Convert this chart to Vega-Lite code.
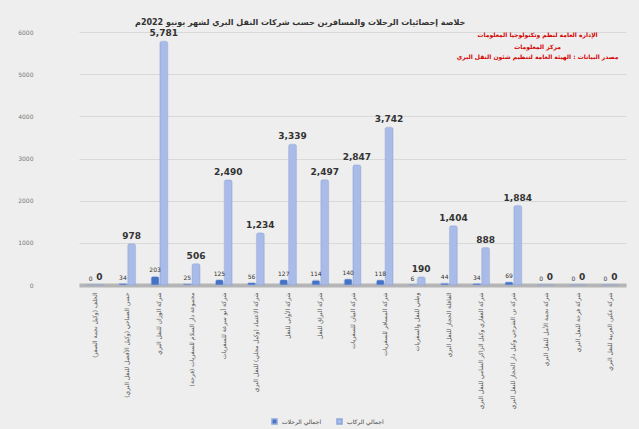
{
  "$schema": "https://vega.github.io/schema/vega-lite/v6.json",
  "autosize": "none",
  "width": 547,
  "height": 253,
  "padding": {"left": 79, "top": 32, "right": 13, "bottom": 144},
  "background": "#eeeeee",
  "title": {
    "text": "خلاصة إحصائيات الرحلات والمسافرين حسب شركات النقل البري  لشهر  يونيو 2022م",
    "fontSize": 8,
    "font": "DejaVu Sans",
    "fontWeight": "bold",
    "color": "#333333",
    "anchor": "start",
    "frame": "group",
    "dx": 56,
    "offset": 2
  },
  "datasets": {
    "main": [
      {"company": "الخلف (وكيل نجمة الصقر)", "series": "اجمالي الرحلات", "value": 0},
      {"company": "الخلف (وكيل نجمة الصقر)", "series": "اجمالي الركاب", "value": 0},
      {"company": "حسن الصباحي (وكيل الأفضل للنقل البري)", "series": "اجمالي الرحلات", "value": 34},
      {"company": "حسن الصباحي (وكيل الأفضل للنقل البري)", "series": "اجمالي الركاب", "value": 978},
      {"company": "شركة الوزان للنقل البري", "series": "اجمالي الرحلات", "value": 203},
      {"company": "شركة الوزان للنقل البري", "series": "اجمالي الركاب", "value": 5781},
      {"company": "مجموعة دار السلام للسفريات (فرحة)", "series": "اجمالي الرحلات", "value": 25},
      {"company": "مجموعة دار السلام للسفريات (فرحة)", "series": "اجمالي الركاب", "value": 506},
      {"company": "شركة أبو سرعة للسفريات", "series": "اجمالي الرحلات", "value": 125},
      {"company": "شركة أبو سرعة للسفريات", "series": "اجمالي الركاب", "value": 2490},
      {"company": "شركة الاعتماد (وكيل مجلي) للنقل البري", "series": "اجمالي الرحلات", "value": 56},
      {"company": "شركة الاعتماد (وكيل مجلي) للنقل البري", "series": "اجمالي الركاب", "value": 1234},
      {"company": "شركة الأولى للنقل", "series": "اجمالي الرحلات", "value": 127},
      {"company": "شركة الأولى للنقل", "series": "اجمالي الركاب", "value": 3339},
      {"company": "شركة البراق للنقل", "series": "اجمالي الرحلات", "value": 114},
      {"company": "شركة البراق للنقل", "series": "اجمالي الركاب", "value": 2497},
      {"company": "شركة البيان للسفريات", "series": "اجمالي الرحلات", "value": 140},
      {"company": "شركة البيان للسفريات", "series": "اجمالي الركاب", "value": 2847},
      {"company": "شركة المسافر للسفريات", "series": "اجمالي الرحلات", "value": 118},
      {"company": "شركة المسافر للسفريات", "series": "اجمالي الركاب", "value": 3742},
      {"company": "وطني للنقل والسفريات", "series": "اجمالي الرحلات", "value": 6},
      {"company": "وطني للنقل والسفريات", "series": "اجمالي الركاب", "value": 190},
      {"company": "القافلة الحجاز للنقل البري", "series": "اجمالي الرحلات", "value": 44},
      {"company": "القافلة الحجاز للنقل البري", "series": "اجمالي الركاب", "value": 1404},
      {"company": "شركة العفاري وكيل الزاكر الشامي للنقل البري", "series": "اجمالي الرحلات", "value": 34},
      {"company": "شركة العفاري وكيل الزاكر الشامي للنقل البري", "series": "اجمالي الركاب", "value": 888},
      {"company": "شركة بن الشرجي وكيل دار الحجاز للنقل البري", "series": "اجمالي الرحلات", "value": 69},
      {"company": "شركة بن الشرجي وكيل دار الحجاز للنقل البري", "series": "اجمالي الركاب", "value": 1884},
      {"company": "شركة نجمة الأمل للنقل البري", "series": "اجمالي الرحلات", "value": 0},
      {"company": "شركة نجمة الأمل للنقل البري", "series": "اجمالي الركاب", "value": 0},
      {"company": "شركة فرحة للنقل البري", "series": "اجمالي الرحلات", "value": 0},
      {"company": "شركة فرحة للنقل البري", "series": "اجمالي الركاب", "value": 0},
      {"company": "شركة عكين العربية للنقل البري", "series": "اجمالي الرحلات", "value": 0},
      {"company": "شركة عكين العربية للنقل البري", "series": "اجمالي الركاب", "value": 0}
    ],
    "notes": [
      {"company": "شركة نجمة الأمل للنقل البري", "value": 5920, "note": "الإدارة العامة لنظم وتكنولوجيا المعلومات"},
      {"company": "شركة نجمة الأمل للنقل البري", "value": 5645, "note": "مركز المعلومات"},
      {"company": "شركة نجمة الأمل للنقل البري", "value": 5405, "note": "مصدر البيانات : الهيئة العامة لتنظيم شئون النقل البري"}
    ]
  },
  "data": {"name": "main"},
  "encoding": {
    "x": {
      "field": "company",
      "type": "nominal",
      "sort": null,
      "scale": {"paddingInner": 0.4, "paddingOuter": 0.2},
      "axis": {
        "title": null,
        "labelAngle": 270,
        "labelFont": "DejaVu Sans",
        "labelFontSize": 6,
        "labelColor": "#555555",
        "labelLimit": 200,
        "labelPadding": 7,
        "ticks": false,
        "domainColor": "#b5b5b5",
        "domainWidth": 4
      }
    },
    "y": {
      "field": "value",
      "type": "quantitative",
      "scale": {"domain": [0, 6000]},
      "axis": {
        "title": null,
        "values": [0, 1000, 2000, 3000, 4000, 5000, 6000],
        "format": "d",
        "labelFont": "DejaVu Sans",
        "labelFontSize": 6,
        "labelColor": "#777777",
        "labelPadding": 46,
        "ticks": false,
        "domain": false,
        "gridColor": "#d9d9d9",
        "gridWidth": 1
      }
    },
    "xOffset": {
      "field": "series",
      "type": "nominal",
      "sort": ["اجمالي الرحلات", "اجمالي الركاب"],
      "scale": {"paddingInner": 0.1, "paddingOuter": 0.15}
    }
  },
  "layer": [
    {
      "mark": {"type": "bar", "cornerRadiusTopLeft": 2, "cornerRadiusTopRight": 2, "stroke": "#8fa6dc", "strokeWidth": 0.5},
      "encoding": {
        "color": {
          "field": "series",
          "type": "nominal",
          "sort": ["اجمالي الرحلات", "اجمالي الركاب"],
          "scale": {"domain": ["اجمالي الرحلات", "اجمالي الركاب"], "range": ["#4472c4", "#a9bbe6"]},
          "legend": {
            "title": null,
            "orient": "none",
            "legendX": 192,
            "legendY": 386,
            "direction": "horizontal",
            "symbolType": "square",
            "symbolSize": 25,
            "labelFont": "DejaVu Sans",
            "labelFontSize": 6,
            "labelColor": "#444444",
            "columnPadding": 12
          }
        }
      }
    },
    {
      "transform": [{"filter": "datum.series === 'اجمالي الركاب'"}],
      "mark": {"type": "text", "baseline": "bottom", "dy": -3, "font": "DejaVu Sans", "fontSize": 9, "fontWeight": "bold", "color": "#333333"},
      "encoding": {"text": {"field": "value", "type": "quantitative", "format": ",d"}}
    },
    {
      "transform": [{"filter": "datum.series === 'اجمالي الرحلات'"}],
      "mark": {"type": "text", "baseline": "bottom", "dy": -3, "font": "DejaVu Sans", "fontSize": 6, "color": "#333333"},
      "encoding": {"text": {"field": "value", "type": "quantitative", "format": "d"}}
    },
    {
      "data": {"name": "notes"},
      "mark": {"type": "text", "font": "DejaVu Sans", "fontSize": 6, "fontWeight": "bold", "color": "#d40000", "baseline": "middle", "align": "center", "dx": -8},
      "encoding": {
        "x": {"field": "company", "type": "nominal", "sort": null},
        "y": {"field": "value", "type": "quantitative"},
        "xOffset": null,
        "text": {"field": "note", "type": "nominal"}
      }
    }
  ],
  "config": {"view": {"stroke": null}}
}
